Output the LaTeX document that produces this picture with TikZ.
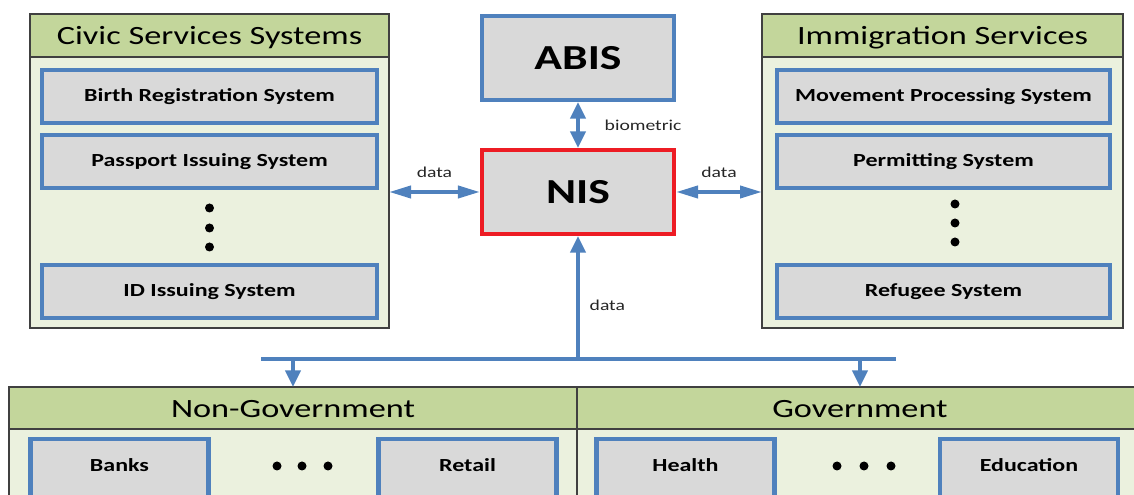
\documentclass[tikz,border=0pt]{standalone}
\usepackage{fontspec}
\setmainfont{Carlito}[FakeStretch=1.3]
\usetikzlibrary{arrows.meta, positioning}
\definecolor{headgreen}{HTML}{C3D69B}
\definecolor{bodygreen}{HTML}{EBF1DE}
\definecolor{sysblue}{HTML}{4F81BD}
\definecolor{sysgray}{HTML}{D9D9D9}
\definecolor{nisred}{HTML}{ED1C24}

\begin{document}
\begin{tikzpicture}[
              > = {Triangle[length=4.4mm, width=2.4mm]},
    panel/.style = {draw=black!75, line width=0.8pt, fill=bodygreen,
                    anchor=north west, inner sep=0pt, outer sep=0pt},
  heading/.style = {panel, fill=headgreen, text height=10.8pt, text depth=0pt,
                    font=\fontsize{15}{18}\selectfont},
   sysbox/.style = {draw=sysblue, line width=2.3pt, fill=sysgray, inner sep=0pt,
                    font=\bfseries\fontsize{10.5}{12}\selectfont},
 civicbox/.style = {sysbox, minimum width=67mm, minimum height=10.6mm},
 immigbox/.style = {sysbox, minimum width=66.6mm, minimum height=10.6mm},
bottombox/.style = {sysbox, minimum width=35.6mm, minimum height=12mm,
                    text height=0.7em, text depth=0.44em},
      hub/.style = {sysbox, minimum width=38.4mm, minimum height=16.8mm,
                    font=\bfseries\fontsize{20}{24}\selectfont},
     link/.style = {sysblue, line width=2.2pt},
    vlink/.style = {link, >={Triangle[length=3.3mm, width=3mm]}},
      tag/.style = {text=black!85, font=\fontsize{8.6}{10}\selectfont, inner sep=1pt},
   bullet/.style = {circle, fill=black, inner sep=0pt, minimum size=1.8mm}
                        ]
\clip (0,0) rectangle (22.68,9.9);
% civic services
\node[panel, minimum width=71.8mm, minimum height=62.8mm] (civic) at (0.60,9.62) {};
\node[heading, minimum width=71.8mm, minimum height=8.6mm] (civichead) at (civic.north west) {Civic Services Systems};
\node[civicbox] (birth)    at (4.19,7.97) {Birth Registration System};
\node[civicbox] (passport) at (4.19,6.67) {Passport Issuing System};
\node[civicbox] (idsys)    at (4.19,4.07) {ID Issuing System};
\foreach \y [count=\i] in {5.74,5.34,4.96}
    \node[bullet] (cdot\i) at (4.19,\y) {};
% immigration services
\node[panel, minimum width=72.2mm, minimum height=62.8mm] (immig) at (15.24,9.62) {};
\node[heading, minimum width=72.2mm, minimum height=8.6mm] (immighead) at (immig.north west) {Immigration Services};
\node[immigbox] (movement)   at (18.87,7.97) {Movement Processing System};
\node[immigbox] (permitting) at (18.87,6.67) {Permitting System};
\node[immigbox] (refugee)    at (18.87,4.07) {Refugee System};
\foreach \y [count=\i] in {5.82,5.44,5.06}
    \node[bullet] (idot\i) at (19.10,\y) {};
% abis and nis
\node[hub] (abis) at (11.56,8.74) {ABIS};
\node[hub, draw=nisred] (nis) at (11.56,6.06) {NIS};
% non-government and government
\node[panel, minimum width=113.6mm, minimum height=30mm] (nongov) at (0.18,2.16) {};
\node[heading, minimum width=113.6mm, minimum height=8.4mm] (nongovhead) at (nongov.north west) {Non-Government};
\node[panel, minimum width=113.2mm, minimum height=30mm] (gov) at (11.54,2.16) {};
\node[heading, minimum width=113.2mm, minimum height=8.4mm] (govhead) at (gov.north west) {Government};
\node[bottombox] (banks)     at (2.39,0.52)  {Banks};
\node[bottombox] (retail)    at (9.35,0.52)  {Retail};
\node[bottombox] (health)    at (13.71,0.52) {Health};
\node[bottombox] (education) at (20.58,0.52) {Education};
\foreach \x [count=\i] in {5.54,6.04,6.56}
    \node[bullet] (ndot\i) at (\x,0.58) {};
\foreach \x [count=\i] in {16.74,17.28,17.82}
    \node[bullet] (gdot\i) at (\x,0.58) {};
% links
\draw[vlink, <->] (abis) -- (nis) node[midway, right=4.6mm, tag] (biotag) {biometric};
\draw[link, <->] (civic.east |- nis) -- (nis) node[midway, above=6pt, tag] (civictag) {data};
\draw[link, <->] (nis) -- (immig.west |- nis) node[midway, above=6pt, tag] (immigtag) {data};
% bus
\coordinate (busL) at (5.22,2.72);
\coordinate (busR) at (17.92,2.72);
\draw[link] (busL) -- (busR);
\draw[vlink, ->] (nis.south |- busL) -- (nis) node[pos=0.44, right=1.6mm, tag] (bustag) {data};
\draw[vlink, ->] (nongov.north |- busL) -- (nongov.north);
\draw[vlink, ->] (gov.north |- busL) -- (gov.north);
\end{tikzpicture}
\end{document}
